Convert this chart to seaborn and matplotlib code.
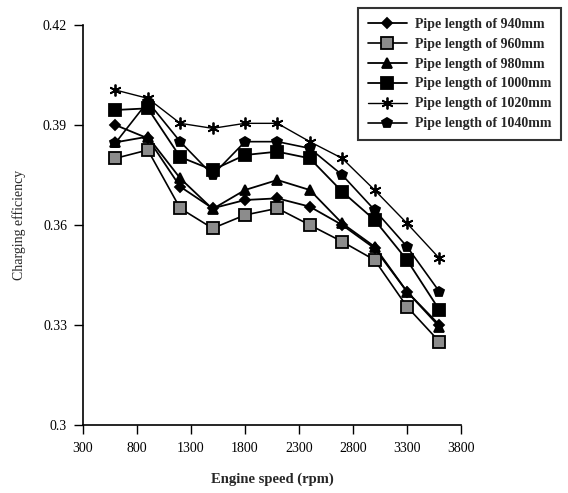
import matplotlib
matplotlib.use("Agg")
import matplotlib.pyplot as plt
import seaborn as sns
import pandas as pd

speed = [600, 900, 1200, 1500, 1800, 2100, 2400, 2700, 3000, 3300, 3600]
eff_940 = [0.390, 0.386, 0.3715, 0.365, 0.3675, 0.368, 0.3655, 0.360, 0.353, 0.340, 0.330]
eff_960 = [0.380, 0.3825, 0.365, 0.359, 0.363, 0.365, 0.360, 0.355, 0.3495, 0.3355, 0.325]
eff_980 = [0.3848, 0.3865, 0.374, 0.3648, 0.3705, 0.3735, 0.3705, 0.3605, 0.3535, 0.3400, 0.3295]
eff_1000 = [0.3945, 0.395, 0.3804, 0.3765, 0.381, 0.382, 0.380, 0.370, 0.3615, 0.3495, 0.3345]
eff_1020 = [0.4005, 0.398, 0.3905, 0.389, 0.3905, 0.3905, 0.385, 0.380, 0.3705, 0.3605, 0.350]
eff_1040 = [0.3846, 0.397, 0.385, 0.375, 0.385, 0.385, 0.383, 0.375, 0.3645, 0.3535, 0.340]
labels = ["Pipe length of 940mm", "Pipe length of 960mm", "Pipe length of 980mm",
          "Pipe length of 1000mm", "Pipe length of 1020mm", "Pipe length of 1040mm"]
yticks = [0.3, 0.33, 0.36, 0.39, 0.42]
ytick_labels = ["0.3", "0.33", "0.36", "0.39", "0.42"]
xticks = [300, 800, 1300, 1800, 2300, 2800, 3300, 3800]

series = [eff_940, eff_960, eff_980, eff_1000, eff_1020, eff_1040]
rows = []
for lab, vals in zip(labels, series):
    for s, v in zip(speed, vals):
        rows.append({"speed": s, "eff": v, "series": lab})
df = pd.DataFrame(rows)

sns.set_style("ticks")
plt.rcParams['font.family'] = ['Liberation Serif', 'DejaVu Serif']

fig = plt.figure(figsize=(5.68, 4.93), dpi=100)
ax = fig.add_axes([83/568, 68/493, 378/568, 400/493])

markers = {labels[0]: "D", labels[1]: "s", labels[2]: "^", labels[3]: "s",
           labels[4]: (6, 2, 0), labels[5]: "p"}
sizes = {labels[0]: 5.5, labels[1]: 8, labels[2]: 7.5, labels[3]: 8.5, labels[4]: 8.5, labels[5]: 7.5}
faces = {labels[0]: "black", labels[1]: "#8c8c8c", labels[2]: "black", labels[3]: "black",
         labels[4]: "black", labels[5]: "black"}
widths = {labels[0]: 1.3, labels[1]: 1.2, labels[2]: 1.3, labels[3]: 1.3, labels[4]: 1.0, labels[5]: 1.2}

for lab in labels:
    sub = df[df["series"] == lab]
    sns.lineplot(data=sub, x="speed", y="eff", ax=ax, color="black", lw=widths[lab],
                 marker=markers[lab], markersize=sizes[lab],
                 markerfacecolor=faces[lab], markeredgecolor="black",
                 markeredgewidth=1.3, label=lab, legend=False)

ax.set_xlim(300, 3800)
ax.set_ylim(0.3, 0.42)
ax.set_xticks(xticks)
ax.set_xticklabels([str(t) for t in xticks], fontsize=10)
ax.set_yticks(yticks)
ax.set_yticklabels(ytick_labels, fontsize=10)
ax.tick_params(direction="out", length=6.5, width=1, colors="black")
ax.tick_params(axis="x", pad=6)
ax.tick_params(axis="y", pad=5)
for sp in ["top", "right"]:
    ax.spines[sp].set_visible(False)
for sp in ["left", "bottom"]:
    ax.spines[sp].set_linewidth(1.2)
    ax.spines[sp].set_color("black")
ax.set_xlabel("Engine speed (rpm)", fontsize=10.5, fontweight="bold", labelpad=12)
ax.set_ylabel("Charging efficiency", fontsize=10, labelpad=12)

handles, lbls = ax.get_legend_handles_labels()
leg = fig.legend(handles, lbls, loc="upper right", bbox_to_anchor=(568/568, 492/493),
                 frameon=True, fancybox=False, edgecolor="black",
                 prop={"weight": "bold", "size": 10}, handlelength=2.8,
                 labelspacing=0.5, borderpad=0.7, handletextpad=0.6)
leg.get_frame().set_linewidth(1.5)

fig.savefig("out.png", dpi=100)
